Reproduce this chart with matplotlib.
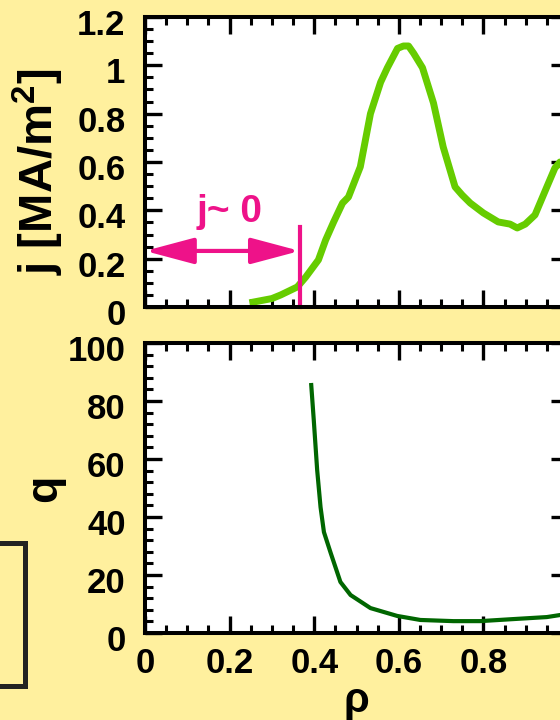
import numpy as np
import matplotlib.pyplot as plt
from matplotlib.patches import Rectangle
from matplotlib.ticker import MultipleLocator
import matplotlib.transforms as mtransforms

plt.rcParams['font.family'] = ['Liberation Sans', 'DejaVu Sans']
plt.rcParams['font.weight'] = 'bold'
plt.rcParams['mathtext.fontset'] = 'custom'
plt.rcParams['mathtext.rm'] = 'Liberation Sans:bold'
plt.rcParams['mathtext.it'] = 'Liberation Sans:bold'
plt.rcParams['mathtext.bf'] = 'Liberation Sans:bold'

# current density profile
rho_j = [0.255, 0.30, 0.321, 0.36, 0.38, 0.41, 0.427, 0.446, 0.467, 0.481,
         0.509, 0.533, 0.557, 0.573, 0.597, 0.611, 0.623, 0.635, 0.656,
         0.682, 0.705, 0.733, 0.75, 0.769, 0.80, 0.835, 0.863, 0.88, 0.899,
         0.922, 0.95, 0.969, 0.981, 0.995]
j_vals = [0.02, 0.035, 0.05, 0.083, 0.124, 0.195, 0.277, 0.352, 0.43, 0.455,
          0.58, 0.80, 0.93, 0.99, 1.07, 1.08, 1.08, 1.05, 0.99,
          0.844, 0.662, 0.497, 0.463, 0.43, 0.389, 0.352, 0.343, 0.327, 0.343,
          0.381, 0.497, 0.575, 0.60, 0.56]

# safety factor profile
rho_q = [0.393, 0.399, 0.407, 0.415, 0.423, 0.439, 0.462, 0.486, 0.533,
         0.596, 0.651, 0.729, 0.792, 0.870, 0.950, 0.981, 1.0]
q_vals = [85.5, 73.4, 56.2, 43.4, 34.8, 27.6, 17.6, 13.1, 8.6,
          5.9, 4.5, 4.1, 4.1, 4.8, 5.5, 6.2, 6.5]

rho_edge = 0.366   # edge of the j~0 region
arrow_j = 0.232

bg = '#FFF09E'
pink = '#EE1289'

fig = plt.figure(figsize=(5.6, 7.2), dpi=100, facecolor=bg)
ax1 = fig.add_axes([145 / 560, 0.5736, 423 / 560, 0.4028])
ax2 = fig.add_axes([145 / 560, 0.1208, 423 / 560, 0.4028])

ax1.plot(rho_j, j_vals, color='#66CC00', lw=5, solid_joinstyle='round')
ax2.plot(rho_q, q_vals, color='#006600', lw=3.0)

ax1.set_ylim(0, 1.2)
ax2.set_ylim(0, 100)
ax1.yaxis.set_minor_locator(MultipleLocator(0.05))
ax1.set_yticks([0, 0.2, 0.4, 0.6, 0.8, 1.0, 1.2])
ax1.set_yticklabels(['0', '0.2', '0.4', '0.6', '0.8', '1', '1.2'])
ax2.yaxis.set_major_locator(MultipleLocator(20))
ax2.yaxis.set_minor_locator(MultipleLocator(4))

for ax in (ax1, ax2):
    ax.set_xlim(0, 1)
    ax.xaxis.set_major_locator(MultipleLocator(0.2))
    ax.xaxis.set_minor_locator(MultipleLocator(0.05))
    ax.tick_params(which='both', direction='in', top=True, right=True)
    ax.tick_params(which='major', length=12, width=2.4)
    ax.tick_params(which='minor', length=6, width=2.2)
    ax.tick_params(axis='y', pad=14, labelsize=25)
    ax.tick_params(axis='x', pad=10, labelsize=25)
    for s in ax.spines.values():
        s.set_linewidth(2.9)
    offset = mtransforms.ScaledTranslation(0, -3.5 / 72, fig.dpi_scale_trans)
    for lab in ax.get_yticklabels():
        lab.set_transform(lab.get_transform() + offset)

ax1.set_xticklabels([])
ax2.set_xticks([0, 0.2, 0.4, 0.6, 0.8, 1.0])
ax2.set_xticklabels(['0', '0.2', '0.4', '0.6', '0.8', '1'])

ax1.set_ylabel('j [MA/m$^{2}$]', fontsize=34, fontweight='bold')
ax2.set_ylabel('q', fontsize=32, fontweight='bold')
ax1.yaxis.set_label_coords(-0.186, 0.466)
ax2.yaxis.set_label_coords(-0.19, 0.5)
ax2.set_xlabel('ρ', fontsize=30, fontweight='bold')
ax2.xaxis.set_label_coords(0.5, -0.165)

# j ~ 0 marker
ax1.plot([rho_edge, rho_edge], [0, 0.33], color=pink, lw=3, clip_on=False)
ax1.annotate('', xy=(0, arrow_j), xytext=(rho_edge, arrow_j),
             arrowprops=dict(arrowstyle='<|-|>,head_length=3.0,head_width=0.8',
                             color=pink, lw=3, shrinkA=0, shrinkB=0,
                             mutation_scale=10))
ax1.text(0.2, 0.393, 'j~ 0', color=pink, fontsize=28, fontweight='bold',
         ha='center', va='center')

# fragment of neighbouring panel frame
fig.patches.append(Rectangle((-30 / 560, 34 / 720), 55 / 560, 143 / 720,
                             transform=fig.transFigure, fill=False,
                             edgecolor='#222222', lw=3.6))

fig.savefig('out.png', dpi=100, facecolor=bg)
